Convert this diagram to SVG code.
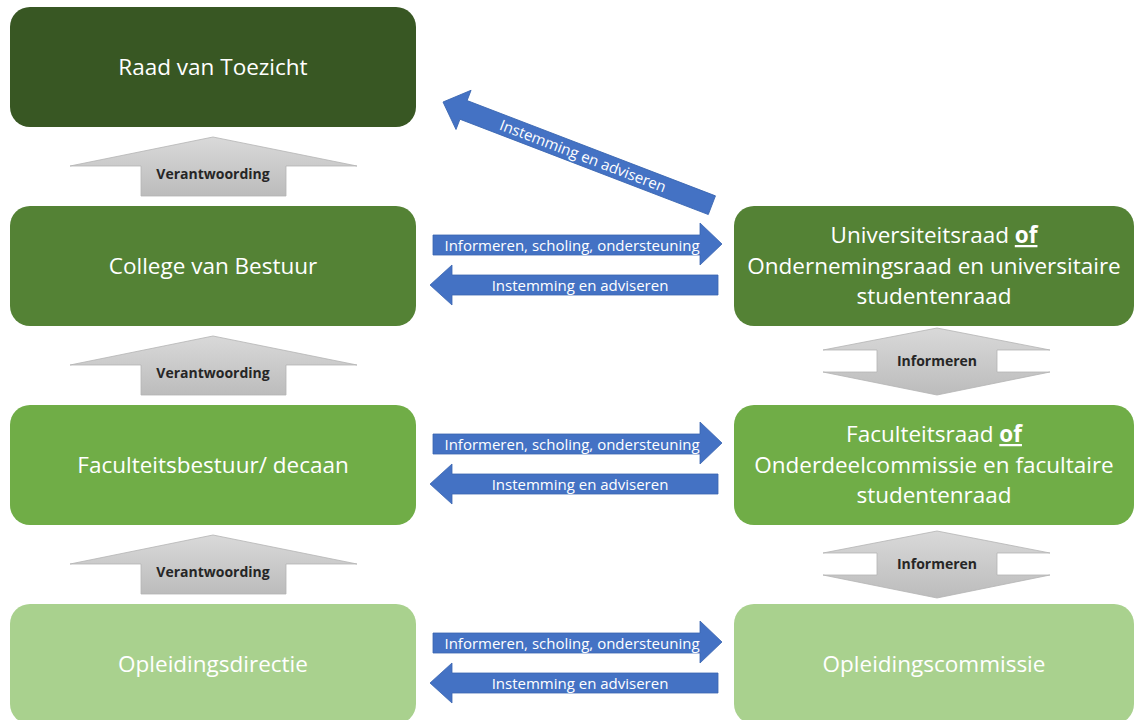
<svg xmlns="http://www.w3.org/2000/svg" width="1135" height="720" viewBox="0 0 1135 720">
<defs>
<linearGradient id="gray" x1="0" y1="0" x2="0" y2="1">
<stop offset="0" stop-color="#d9d9d9"/>
<stop offset="1" stop-color="#bcbcbc"/>
</linearGradient>
<style>
.node text{font-family:"Open Sans","Liberation Sans",sans-serif;font-size:22.5px;fill:#ffffff;text-anchor:middle}
.blue{fill:#4472c4;stroke:#3a65b0;stroke-width:0.8}
.bl{font-family:"Open Sans","Liberation Sans",sans-serif;font-size:15px;fill:#ffffff;text-anchor:middle}
.gray{fill:url(#gray);stroke:#b4b4b4;stroke-width:0.8}
.gl{font-family:"Open Sans","Liberation Sans",sans-serif;font-size:14px;font-weight:bold;fill:#262626;text-anchor:middle}
</style>
</defs>
<rect width="1135" height="720" fill="#ffffff"/>

<g id="raad" class="node">
<rect x="10" y="7" width="406" height="120" rx="20" fill="#385723"/>
<text x="213" y="75">Raad van Toezicht</text>
</g>
<g id="college" class="node">
<rect x="10" y="206" width="406" height="120" rx="20" fill="#548235"/>
<text x="213" y="274">College van Bestuur</text>
</g>
<g id="faculteitsbestuur" class="node">
<rect x="10" y="405" width="406" height="120" rx="20" fill="#70ad47"/>
<text x="213" y="473">Faculteitsbestuur/ decaan</text>
</g>
<g id="opleidingsdirectie" class="node">
<rect x="10" y="604" width="406" height="120" rx="20" fill="#a9d18e"/>
<text x="213" y="672">Opleidingsdirectie</text>
</g>
<g id="universiteitsraad" class="node">
<rect x="734" y="206" width="400" height="120" rx="20" fill="#548235"/>
<text x="934" y="243">Universiteitsraad <tspan font-weight="bold" text-decoration="underline">of</tspan></text>
<text x="934" y="273.5">Ondernemingsraad en universitaire</text>
<text x="934" y="304">studentenraad</text>
</g>
<g id="faculteitsraad" class="node">
<rect x="734" y="405" width="400" height="120" rx="20" fill="#70ad47"/>
<text x="934" y="442">Faculteitsraad <tspan font-weight="bold" text-decoration="underline">of</tspan></text>
<text x="934" y="472.5">Onderdeelcommissie en facultaire</text>
<text x="934" y="503">studentenraad</text>
</g>
<g id="opleidingscommissie" class="node">
<rect x="734" y="604" width="400" height="120" rx="20" fill="#a9d18e"/>
<text x="934" y="672">Opleidingscommissie</text>
</g>

<g id="connectors">
<g transform="translate(443,102) rotate(21)">
<polygon class="blue" points="0,0 22,-21 22,-10 288,-10 288,10 22,10 22,21"/>
<text class="bl" x="150" y="5.5">Instemming en adviseren</text>
</g>

<g>
<polygon class="blue" points="433,235 700,235 700,223 722,244 700,265 700,255 433,255"/>
<text class="bl" x="572" y="250.5">Informeren, scholing, ondersteuning</text>
<polygon class="blue" points="430,285 452,265 452,275 718,275 718,295 452,295 452,305"/>
<text class="bl" x="580" y="290.5">Instemming en adviseren</text>
</g>
<g transform="translate(0,199)">
<polygon class="blue" points="433,235 700,235 700,223 722,244 700,265 700,255 433,255"/>
<text class="bl" x="572" y="250.5">Informeren, scholing, ondersteuning</text>
<polygon class="blue" points="430,285 452,265 452,275 718,275 718,295 452,295 452,305"/>
<text class="bl" x="580" y="290.5">Instemming en adviseren</text>
</g>
<g transform="translate(0,398)">
<polygon class="blue" points="433,235 700,235 700,223 722,244 700,265 700,255 433,255"/>
<text class="bl" x="572" y="250.5">Informeren, scholing, ondersteuning</text>
<polygon class="blue" points="430,285 452,265 452,275 718,275 718,295 452,295 452,305"/>
<text class="bl" x="580" y="290.5">Instemming en adviseren</text>
</g>

<g>
<polygon class="gray" points="213,137 357,166 286,166 286,196 141,196 141,166 70,166"/>
<text class="gl" x="213" y="179">Verantwoording</text>
</g>
<g transform="translate(0,199)">
<polygon class="gray" points="213,137 357,166 286,166 286,196 141,196 141,166 70,166"/>
<text class="gl" x="213" y="179">Verantwoording</text>
</g>
<g transform="translate(0,398)">
<polygon class="gray" points="213,137 357,166 286,166 286,196 141,196 141,166 70,166"/>
<text class="gl" x="213" y="179">Verantwoording</text>
</g>

<g>
<polygon class="gray" points="937,328 1050,350 997,350 997,372 1050,372 937,395 823,372 877,372 877,350 823,350"/>
<text class="gl" x="937" y="366">Informeren</text>
</g>
<g transform="translate(0,203)">
<polygon class="gray" points="937,328 1050,350 997,350 997,372 1050,372 937,395 823,372 877,372 877,350 823,350"/>
<text class="gl" x="937" y="366">Informeren</text>
</g>
</g>
</svg>
